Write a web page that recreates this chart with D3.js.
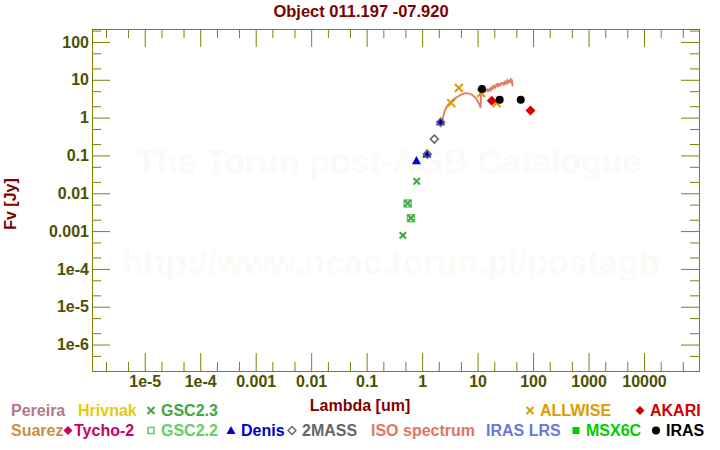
<!DOCTYPE html>
<html>
<head>
<meta charset="utf-8">
<script src="https://cdn.jsdelivr.net/npm/d3@7"></script>
<style>
  body { margin: 0; background: #fff; }
  text { font-family: "Liberation Sans", Arial, sans-serif; font-weight: bold; }
</style>
</head>
<body>
<svg id="chart" width="720" height="450"></svg>
<script>
// photometry (lambda in um, flux in Jy)
var allwiseLam = [3.35, 4.6, 11.6, 22.1];
var allwiseFlux = [2.42, 6.04, 4.46, 2.42];
var akariLam = [18, 90];
var akariFlux = [2.79, 1.54];
var irasLam = [12, 25, 60];
var irasFlux = [5.69, 2.96, 2.96];
var twomassLam = [1.24, 1.66, 2.16];
var twomassFlux = [0.108, 0.27, 0.75];
var denisLam = [0.79, 1.22, 2.15];
var denisFlux = [0.073, 0.11, 0.78];
var gsc23Lam = [0.45, 0.55, 0.63, 0.8];
var gsc23Flux = [7.7e-4, 5.4e-3, 2.2e-3, 0.0208];
var gsc22Lam = [0.55, 0.63];
var gsc22Flux = [5.4e-3, 2.2e-3];

var isoLam = [2.31, 2.42, 2.54, 2.66, 2.80, 2.96, 3.13, 3.35, 3.59, 3.85,
  4.13, 4.42, 4.74, 5.07, 5.43, 5.82, 6.25, 6.7, 7.18, 7.7,
  8.23, 8.7, 9.2, 9.65, 10.1, 10.5, 10.9, 11.1, 11.3, 11.45,
  11.55, 12.0, 12.5, 13.0, 13.5, 14.0, 14.4, 15.0, 15.5, 16.0,
  16.5, 17.0, 17.5, 18.0, 18.9, 19.5, 20.0, 20.8, 21.7, 22.5,
  23.2, 24.0, 24.9, 26.0, 27.0, 28.6, 29.5, 30.5, 31.5, 32.9,
  34.0, 35.0, 36.0, 37.7, 38.5, 39.5, 40.5, 41.5, 42.2, 42.8];
var isoFlux = [0.79, 1.1, 1.45, 1.7, 1.97, 2.2, 2.42, 2.7, 2.96, 3.2,
  3.41, 3.6, 3.85, 4.05, 4.19, 4.35, 4.46, 4.4, 4.27, 4.1,
  3.85, 3.6, 3.29, 3.0, 2.67, 2.4, 2.18, 2.0, 1.79, 2.6,
  4.82, 5.2, 5.45, 4.9, 5.5, 5.0, 5.13, 5.6, 5.0, 5.5,
  5.79, 5.3, 6.0, 5.6, 6.67, 6.1, 6.8, 6.3, 7.39, 6.8,
  7.6, 7.0, 7.71, 7.2, 8.3, 8.2, 7.5, 8.6, 7.8, 9.04,
  8.2, 9.5, 8.6, 9.44, 8.3, 9.8, 8.8, 9.6, 9.04, 6.67];

// axis ticks
var xTicks = [1e-5, 1e-4, 1e-3, 0.01, 0.1, 1, 10, 100, 1000, 10000];
var xTickLabels = ['1e-5', '1e-4', '0.001', '0.01', '0.1', '1', '10', '100', '1000', '10000'];
var yTicks = [1e-6, 1e-5, 1e-4, 1e-3, 0.01, 0.1, 1, 10, 100];
var yTickLabels = ['1e-6', '1e-5', '1e-4', '0.001', '0.01', '0.1', '1', '10', '100'];

var legendRow1 = ['Pereira', 'Hrivnak', 'GSC2.3', 'ALLWISE', 'AKARI'];
var legendRow2 = ['Suarez', 'Tycho-2', 'GSC2.2', 'Denis', '2MASS', 'ISO spectrum', 'IRAS LRS', 'MSX6C', 'IRAS'];

var svg = d3.select('#chart');
var margin = { top: 29, right: 21, bottom: 79, left: 92 };
var width = 720 - margin.left - margin.right;
var height = 450 - margin.top - margin.bottom;
var olive = '#808000';
var tickColor = '#4f4f00';
var darkRed = '#800000';

var x = d3.scaleLog().domain([1.12e-6, 9.8e4]).range([0, width]);
var y = d3.scaleLog().domain([2e-7, 220]).range([height, 0]);

function minors(scale) {
  var d = scale.domain(), out = [];
  for (var e = -8; e <= 6; e++) {
    [2, 5].forEach(function(m) {
      var v = m * Math.pow(10, e);
      if (v > d[0] && v < d[1]) out.push(v);
    });
  }
  return out;
}

// watermark
svg.append('text')
  .attr('x', 389).attr('y', 173)
  .attr('text-anchor', 'middle')
  .attr('font-size', '34px')
  .attr('fill', '#fcf9f6')
  .text('The Torun post-AGB Catalogue');
svg.append('text')
  .attr('x', 391).attr('y', 274)
  .attr('text-anchor', 'middle')
  .attr('font-size', '34px')
  .attr('fill', '#fcf9f6')
  .text('http://www.ncac.torun.pl/postagb');

// title
svg.append('text')
  .attr('x', 361).attr('y', 17)
  .attr('text-anchor', 'middle')
  .attr('font-size', '16.5px')
  .attr('fill', darkRed)
  .text('Object 011.197 -07.920');

var g = svg.append('g')
  .attr('transform', 'translate(' + margin.left + ',' + margin.top + ')');

function styleAxis(sel) {
  sel.select('.domain').remove();
  sel.selectAll('line').attr('stroke', olive);
  sel.selectAll('text')
    .attr('fill', tickColor)
    .attr('font-size', '16px')
    .attr('font-family', '"Liberation Sans", Arial, sans-serif')
    .attr('font-weight', 'bold');
}

// major + minor ticks on all four sides, pointing inward
g.append('g').attr('transform', 'translate(0,' + height + ')')
  .call(d3.axisBottom(x).tickValues(xTicks).tickSize(-18).tickPadding(5)
    .tickFormat(function(d, i) { return xTickLabels[i]; }))
  .call(styleAxis);
g.append('g').attr('transform', 'translate(0,' + height + ')')
  .call(d3.axisBottom(x).tickValues(minors(x)).tickSize(-9).tickFormat(''))
  .call(styleAxis);
g.append('g')
  .call(d3.axisTop(x).tickValues(xTicks).tickSize(-18).tickFormat(''))
  .call(styleAxis);
g.append('g')
  .call(d3.axisTop(x).tickValues(minors(x)).tickSize(-9).tickFormat(''))
  .call(styleAxis);

g.append('g')
  .call(d3.axisLeft(y).tickValues(yTicks).tickSize(-18).tickPadding(3)
    .tickFormat(function(d, i) { return yTickLabels[i]; }))
  .call(styleAxis);
g.append('g')
  .call(d3.axisLeft(y).tickValues(minors(y)).tickSize(-9).tickFormat(''))
  .call(styleAxis);
g.append('g').attr('transform', 'translate(' + width + ',0)')
  .call(d3.axisRight(y).tickValues(yTicks).tickSize(-18).tickFormat(''))
  .call(styleAxis);
g.append('g').attr('transform', 'translate(' + width + ',0)')
  .call(d3.axisRight(y).tickValues(minors(y)).tickSize(-9).tickFormat(''))
  .call(styleAxis);

g.append('rect')
  .attr('x', 0.5).attr('y', 0.5)
  .attr('width', width).attr('height', height)
  .attr('fill', 'none')
  .attr('stroke', olive);

// axis titles
svg.append('text')
  .attr('x', 360).attr('y', 411)
  .attr('text-anchor', 'middle')
  .attr('font-size', '16px')
  .attr('fill', darkRed)
  .text('Lambda [um]');
svg.append('text')
  .attr('transform', 'translate(16,204) rotate(-90)')
  .attr('text-anchor', 'middle')
  .attr('font-size', '16px')
  .attr('fill', darkRed)
  .text('Fv [Jy]');

// symbol shapes
function crossPath(s) {
  return 'M' + (-s) + ',' + (-s) + 'L' + s + ',' + s + 'M' + (-s) + ',' + s + 'L' + s + ',' + (-s);
}
function diamondPath(s) {
  return 'M0,' + (-s) + 'L' + s + ',0L0,' + s + 'L' + (-s) + ',0Z';
}
function trianglePath(s) {
  return 'M0,' + (-s) + 'L' + s + ',' + (s * 0.8) + 'L' + (-s) + ',' + (s * 0.8) + 'Z';
}
function squarePath(s) {
  return 'M' + (-s) + ',' + (-s) + 'H' + s + 'V' + s + 'H' + (-s) + 'Z';
}

function zip(lam, flux) {
  return lam.map(function(l, i) { return { lam: l, flux: flux[i] }; });
}

// ISO spectrum
var line = d3.line()
  .x(function(d) { return x(d.lam); })
  .y(function(d) { return y(d.flux); });
g.append('path')
  .datum(zip(isoLam, isoFlux))
  .attr('d', line)
  .attr('fill', 'none')
  .attr('stroke', '#e07a64')
  .attr('stroke-width', 1.8);

function points(lam, flux, path, fill, stroke, sw) {
  g.selectAll(null)
    .data(zip(lam, flux))
    .enter().append('path')
    .attr('transform', function(d) { return 'translate(' + x(d.lam) + ',' + y(d.flux) + ')'; })
    .attr('d', path)
    .attr('fill', fill)
    .attr('stroke', stroke)
    .attr('stroke-width', sw || 0);
}

points(gsc22Lam, gsc22Flux, squarePath(3.5), 'none', '#66cc66', 1.5);
points(gsc23Lam, gsc23Flux, crossPath(3.2), 'none', '#44a544', 2);
points(denisLam, denisFlux, trianglePath(4.5), '#0000cc', 'none');
points(twomassLam, twomassFlux, diamondPath(4), 'none', '#666666', 1.5);
points(allwiseLam, allwiseFlux, crossPath(4), 'none', '#e09a00', 2);
points(akariLam, akariFlux, diamondPath(5), '#dd0000', 'none');
g.selectAll('circle.iras')
  .data(zip(irasLam, irasFlux))
  .enter().append('circle')
  .attr('class', 'iras')
  .attr('cx', function(d) { return x(d.lam); })
  .attr('cy', function(d) { return y(d.flux); })
  .attr('r', 4)
  .attr('fill', '#000');

// legend
var legendColors = {
  'Pereira': '#b57592', 'Hrivnak': '#e8c810', 'GSC2.3': '#44a544', 'ALLWISE': '#e09a00',
  'AKARI': '#cc0000', 'Suarez': '#c98f45', 'Tycho-2': '#cc0066', 'GSC2.2': '#66cc66',
  'Denis': '#0000cc', '2MASS': '#666666', 'ISO spectrum': '#e07562', 'IRAS LRS': '#6a78d8',
  'MSX6C': '#00cc00', 'IRAS': '#000000'
};
var legendLayout = {
  'Pereira': [11, null], 'Hrivnak': [78, null], 'GSC2.3': [161, 'cross'], 'ALLWISE': [540, 'cross'],
  'AKARI': [650, 'diamond'], 'Suarez': [11, null], 'Tycho-2': [74, 'diamond'], 'GSC2.2': [161, 'square'],
  'Denis': [241, 'triangle'], '2MASS': [302, 'odiamond'], 'ISO spectrum': [371, null],
  'IRAS LRS': [486, null], 'MSX6C': [586, 'fsquare'], 'IRAS': [666, 'circle']
};

function drawLegendRow(names, cy) {
  names.forEach(function(name) {
    var lx = legendLayout[name][0], sym = legendLayout[name][1], col = legendColors[name];
    svg.append('text')
      .attr('x', lx).attr('y', cy + 5.6)
      .attr('font-size', '16px')
      .attr('fill', col)
      .text(name);
    if (!sym) return;
    var sx = lx - (name === 'Tycho-2' ? 6 : 10);
    var s = svg.append('path').attr('transform', 'translate(' + sx + ',' + cy + ')');
    if (sym === 'cross') s.attr('d', crossPath(3.5)).attr('stroke', col).attr('stroke-width', 2).attr('fill', 'none');
    if (sym === 'diamond') s.attr('d', diamondPath(4.5)).attr('fill', col);
    if (sym === 'square') s.attr('d', squarePath(3)).attr('stroke', col).attr('stroke-width', 1.6).attr('fill', 'none');
    if (sym === 'fsquare') s.attr('d', squarePath(3.5)).attr('fill', col);
    if (sym === 'triangle') s.attr('d', trianglePath(4.5)).attr('fill', col);
    if (sym === 'odiamond') s.attr('d', diamondPath(4)).attr('stroke', col).attr('stroke-width', 1.4).attr('fill', 'none');
    if (sym === 'circle') s.attr('d', d3.symbol().type(d3.symbolCircle).size(50)()).attr('fill', col);
  });
}
drawLegendRow(legendRow1, 410.5);
drawLegendRow(legendRow2, 430.5);
</script>
</body>
</html>
